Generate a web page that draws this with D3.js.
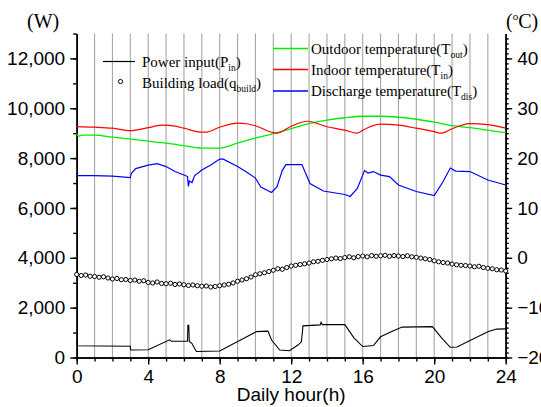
<!DOCTYPE html>
<html>
<head>
<meta charset="utf-8">
<script src="https://cdn.jsdelivr.net/npm/d3@7/dist/d3.min.js"></script>
<style>
  body { margin: 0; background: #fff; }
  svg { display: block; }
</style>
</head>
<body>
<svg id="chart" width="541" height="407"></svg>
<script>
// ---- Data -------------------------------------------------------------
// Power input of the heat pump (W), piecewise record over the day
const powerHours = [0, 0.05, 3.0, 3.02, 4.0, 5.2, 5.3, 6.2, 6.22, 6.27, 6.3, 6.45, 6.6, 6.7, 8.0, 10.05, 10.7, 10.9, 11.36, 11.9, 12.38, 12.57, 12.66, 13.62, 13.67, 13.74, 15.0, 15.5, 16.0, 16.6, 17.0, 17.5, 18.2, 19.9, 20.4, 20.9, 21.27, 23.03, 23.5, 24];
const powerWatts = [620, 470, 450, 300, 310, 710, 650, 650, 1290, 1290, 640, 560, 360, 240, 260, 1040, 1060, 700, 300, 270, 500, 630, 1270, 1310, 1410, 1320, 1320, 800, 440, 480, 830, 1000, 1220, 1240, 800, 410, 420, 1040, 1140, 1150];

// Building load (W), one reading every 15 minutes
const loadStepHours = 0.25;
const loadWatts = [
  3330, 3290, 3310, 3260,
  3250, 3220, 3240, 3190,
  3150, 3170, 3120, 3130,
  3090, 3110, 3060, 3080,
  3010, 2990, 3030, 2970,
  2960, 2980, 2930, 2950,
  2920, 2890, 2910, 2880,
  2860, 2870, 2830, 2850,
  2880, 2910, 2940, 2990,
  3060, 3110, 3160, 3230,
  3320, 3360, 3400, 3450,
  3500, 3560, 3540, 3610,
  3670, 3700, 3730, 3760,
  3790, 3840, 3860, 3900,
  3930, 3960, 3990, 3970,
  4010, 4040, 4000, 4050,
  4070, 4040, 4090, 4060,
  4080, 4100, 4060, 4090,
  4070, 4050, 4080, 4040,
  4020, 3990, 3960, 3930,
  3880, 3840, 3810, 3790,
  3750, 3720, 3700, 3690,
  3670, 3640, 3660, 3610,
  3580, 3560, 3520, 3510,
  3470
];

// Outdoor temperature (°C)
const outdoorHours = [0, 0.1, 0.3, 1, 2, 3, 4, 5, 6, 7, 8, 9, 10, 11, 12, 13, 14, 15, 16, 17, 18, 19, 20, 21, 22, 23, 24];
const outdoorTemp  = [24.9, 24.4, 24.6, 24.6, 24.2, 23.8, 23.4, 23.0, 22.5, 22.0, 22.0, 23.0, 24.0, 24.9, 25.9, 26.9, 27.6, 28.1, 28.4, 28.4, 28.2, 27.8, 27.2, 26.5, 26.1, 25.6, 25.1];

// Indoor temperature (°C)
const indoorHours = [0, 1, 2, 3, 4, 4.8, 5.5, 6, 7, 7.2, 8, 9, 9.5, 10, 11, 11.2, 12, 12.9, 14, 15, 15.7, 16, 17, 18, 19, 20, 20.4, 21, 22, 23, 24];
const indoorTemp  = [26.3, 26.2, 26.0, 25.5, 26.1, 26.6, 26.4, 26.0, 25.2, 25.2, 26.2, 27.0, 26.9, 26.5, 25.1, 25.0, 26.4, 27.4, 26.3, 25.6, 25.0, 25.6, 26.8, 26.6, 26.0, 25.3, 25.0, 25.9, 26.9, 26.7, 26.0];

// Discharge air temperature (°C)
const dischargeHours = [0, 1, 2, 3, 3.05, 3.3, 4, 4.5, 5, 5.5, 6, 6.2, 6.25, 6.3, 6.45, 6.6, 6.9, 7, 7.5, 8, 8.2, 9, 9.5, 10, 10.3, 10.9, 11.2, 11.5, 11.7, 12.6, 13.05, 13.8, 15, 15.3, 15.7, 16.1, 16.3, 16.6, 17, 17.5, 18, 19, 20, 20.5, 20.9, 21.2, 22, 23, 24];
const dischargeTemp  = [16.5, 16.5, 16.4, 16.1, 16.9, 17.9, 18.6, 18.9, 18.3, 17.3, 16.6, 16.3, 14.3, 15.4, 15.1, 16.5, 17.3, 17.6, 18.6, 19.8, 19.8, 18.3, 17.2, 16.0, 14.2, 13.1, 14.2, 17.5, 18.7, 18.7, 14.9, 13.4, 12.7, 12.3, 13.9, 17.5, 17.0, 17.3, 16.6, 16.3, 14.6, 13.3, 12.5, 15.3, 18.0, 17.4, 17.3, 15.6, 14.6];

// Axis ticks
const hourTicks = [0, 4, 8, 12, 16, 20, 24];
const wattTicks = [0, 2000, 4000, 6000, 8000, 10000, 12000];
const tempTicks = [-20, -10, 0, 10, 20, 30, 40];

// ---- Layout -----------------------------------------------------------
const svg = d3.select("#chart");
const plotLeft = 76.7, plotRight = 505.7, plotTop = 33.5, plotBottom = 357.5;
const sansFont = "'Liberation Sans', Arial, sans-serif";
const serifFont = "'Liberation Serif', 'Times New Roman', serif";

const x = d3.scaleLinear().domain([0, 24]).range([plotLeft, plotRight]);
const yW = d3.scaleLinear().domain([0, 13000]).range([plotBottom, plotTop]);
const yT = d3.scaleLinear().domain([-20, 45]).range([plotBottom, plotTop]);

// Hourly vertical grid lines
svg.append("g")
  .selectAll("line")
  .data(d3.range(1, 24))
  .join("line")
  .attr("x1", d => x(d)).attr("x2", d => x(d))
  .attr("y1", plotTop).attr("y2", plotBottom)
  .attr("stroke", "#a6a6a6")
  .attr("stroke-width", 1.1);

// ---- Axes -------------------------------------------------------------
function styleAxis(g, fontSize) {
  g.selectAll("path.domain").attr("stroke", "#000").attr("stroke-width", 1.6);
  g.selectAll(".tick line").attr("stroke", "#000").attr("stroke-width", 1.4);
  g.selectAll(".tick text").attr("fill", "#000")
    .style("font-family", sansFont).style("font-size", fontSize + "px");
}

// bottom: minor every hour, labels every 4 h
svg.append("g").attr("transform", `translate(0,${plotBottom})`)
  .call(d3.axisBottom(x).tickValues(d3.range(0, 25)).tickSize(4).tickSizeOuter(0).tickFormat(""))
  .call(g => styleAxis(g, 19));
svg.append("g").attr("transform", `translate(0,${plotBottom})`)
  .call(d3.axisBottom(x).tickValues(hourTicks).tickSize(7).tickPadding(5).tickSizeOuter(0).tickFormat(d3.format("d")))
  .call(g => styleAxis(g, 19));

// left: W
svg.append("g").attr("transform", `translate(${plotLeft},0)`)
  .call(d3.axisLeft(yW).tickValues(d3.range(0, 13001, 1000)).tickSize(3.5).tickSizeOuter(0).tickFormat(""))
  .call(g => styleAxis(g, 19));
svg.append("g").attr("transform", `translate(${plotLeft},0)`)
  .call(d3.axisLeft(yW).tickValues(wattTicks).tickSize(6.5).tickPadding(5).tickSizeOuter(0).tickFormat(d3.format(",")))
  .call(g => styleAxis(g, 19));

// right: °C (labels run off the right edge, as in the printed figure)
svg.append("g").attr("transform", `translate(${plotRight},0)`)
  .call(d3.axisRight(yT).tickValues(d3.range(-20, 45, 1)).tickSize(3).tickSizeOuter(0).tickFormat(""))
  .call(g => styleAxis(g, 19));
svg.append("g").attr("transform", `translate(${plotRight},0)`)
  .call(d3.axisRight(yT).tickValues(tempTicks).tickSize(6.5).tickPadding(5).tickSizeOuter(0).tickFormat(d3.format("d")))
  .call(g => styleAxis(g, 19));

// ---- Series -----------------------------------------------------------
const zip = (a, b) => a.map((h, i) => [h, b[i]]);
const lineW = d3.line().x(d => x(d[0])).y(d => yW(d[1]));
const smoothT = d3.line().x(d => x(d[0])).y(d => yT(d[1])).curve(d3.curveMonotoneX);
const sharpT = d3.line().x(d => x(d[0])).y(d => yT(d[1]));

svg.append("path").datum(zip(outdoorHours, outdoorTemp))
  .attr("d", smoothT).attr("fill", "none")
  .attr("stroke", "#00ee00").attr("stroke-width", 1.3);
svg.append("path").datum(zip(indoorHours, indoorTemp))
  .attr("d", smoothT).attr("fill", "none")
  .attr("stroke", "#ff0000").attr("stroke-width", 1.2);
svg.append("path").datum(zip(dischargeHours, dischargeTemp))
  .attr("d", sharpT).attr("fill", "none")
  .attr("stroke", "#0000ff").attr("stroke-width", 1.2);

svg.append("path").datum(zip(powerHours, powerWatts))
  .attr("d", lineW).attr("fill", "none")
  .attr("stroke", "#000").attr("stroke-width", 1.1);

svg.append("g")
  .selectAll("circle")
  .data(loadWatts)
  .join("circle")
  .attr("cx", (d, i) => x(i * loadStepHours))
  .attr("cy", d => yW(d))
  .attr("r", 2.1)
  .attr("fill", "#fff")
  .attr("stroke", "#000")
  .attr("stroke-width", 1);

// ---- Legends ----------------------------------------------------------
function legendLabel(xPos, yPos, main, sub) {
  const t = svg.append("text")
    .attr("x", xPos).attr("y", yPos)
    .style("font-family", serifFont).style("font-size", "15px").attr("fill", "#000");
  t.append("tspan").text(main);
  t.append("tspan").attr("dy", 4).style("font-size", "9.5px").text(sub);
  t.append("tspan").attr("dy", -4).text(")");
}

svg.append("line").attr("x1", 103).attr("x2", 135).attr("y1", 61.5).attr("y2", 61.5)
  .attr("stroke", "#000").attr("stroke-width", 1.2);
legendLabel(142, 66.5, "Power input(P", "in");
svg.append("circle").attr("cx", 120.5).attr("cy", 81.5).attr("r", 2.1)
  .attr("fill", "#fff").attr("stroke", "#000").attr("stroke-width", 1);
legendLabel(142, 88, "Building load(q", "build");

const tempLegend = [
  { y: 48.5, color: "#00ee00", main: "Outdoor temperature(T", sub: "out" },
  { y: 69.5, color: "#ff0000", main: "Indoor temperature(T", sub: "in" },
  { y: 91, color: "#0000ff", main: "Discharge temperature(T", sub: "dis" }
];
tempLegend.forEach(e => {
  svg.append("line").attr("x1", 273).attr("x2", 308).attr("y1", e.y).attr("y2", e.y)
    .attr("stroke", e.color).attr("stroke-width", 1.3);
  legendLabel(311, e.y + 5, e.main, e.sub);
});

// ---- Axis titles ------------------------------------------------------
svg.append("text").attr("x", 27).attr("y", 28)
  .style("font-family", serifFont).style("font-size", "20px").text("(W)");

const degC = svg.append("text").attr("x", 506).attr("y", 28)
  .style("font-family", serifFont).style("font-size", "20px");
degC.append("tspan").text("(");
degC.append("tspan").attr("dy", -8).style("font-size", "11px").text("o");
degC.append("tspan").attr("dy", 8).text("C)");

svg.append("text").attr("x", (plotLeft + plotRight) / 2).attr("y", 400.5)
  .attr("text-anchor", "middle")
  .style("font-family", sansFont).style("font-size", "19px").text("Daily hour(h)");
</script>
</body>
</html>
